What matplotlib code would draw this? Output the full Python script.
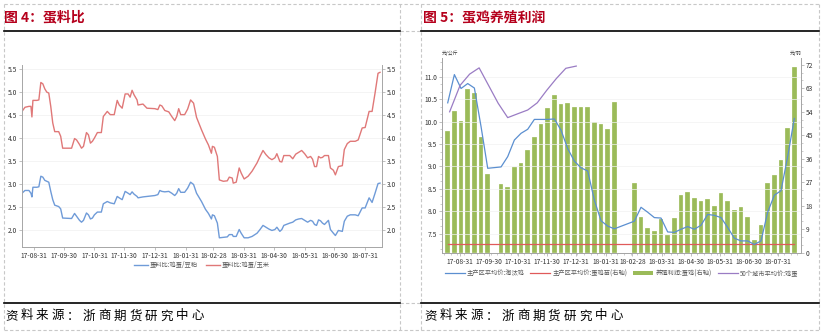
import pandas as pd
import matplotlib
matplotlib.use("Agg")
import matplotlib.pyplot as plt
import matplotlib.dates as mdates
from matplotlib.ticker import MultipleLocator, AutoMinorLocator
from matplotlib.lines import Line2D
from matplotlib.patches import Patch

plt.rcParams['font.family'] = ['Noto Sans CJK SC', 'DejaVu Sans']

# ── DATI: figura 4, 蛋料比 ─────────────────────────────────────────────────
ratio_dates = [
    "2017-08-19", "2017-08-22", "2017-08-26", "2017-08-28", "2017-08-29", "2017-08-30",
    "2017-09-03", "2017-09-05", "2017-09-07", "2017-09-09", "2017-09-11", "2017-09-13",
    "2017-09-15", "2017-09-17", "2017-09-19", "2017-09-21", "2017-09-25", "2017-09-27",
    "2017-09-29", "2017-10-08", "2017-10-11", "2017-10-13", "2017-10-16", "2017-10-18",
    "2017-10-20", "2017-10-23", "2017-10-25", "2017-10-27", "2017-10-29", "2017-10-31",
    "2017-11-03", "2017-11-07", "2017-11-09", "2017-11-13", "2017-11-16", "2017-11-20",
    "2017-11-23", "2017-11-25", "2017-11-28", "2017-12-01", "2017-12-04", "2017-12-06",
    "2017-12-08", "2017-12-10", "2017-12-13", "2017-12-14", "2017-12-19", "2017-12-23",
    "2017-12-31", "2018-01-03", "2018-01-05", "2018-01-07", "2018-01-10", "2018-01-14",
    "2018-01-17", "2018-01-20", "2018-01-22", "2018-01-24", "2018-01-26", "2018-01-30",
    "2018-02-02", "2018-02-05", "2018-02-08", "2018-02-11", "2018-02-16", "2018-02-20",
    "2018-02-23", "2018-02-26", "2018-02-27", "2018-03-01", "2018-03-04", "2018-03-06",
    "2018-03-10", "2018-03-14", "2018-03-16", "2018-03-19", "2018-03-20", "2018-03-23",
    "2018-03-26", "2018-03-28", "2018-03-31", "2018-04-04", "2018-04-08", "2018-04-13",
    "2018-04-16", "2018-04-19", "2018-04-22", "2018-04-25", "2018-04-28", "2018-05-01",
    "2018-05-03", "2018-05-06", "2018-05-08", "2018-05-10", "2018-05-16", "2018-05-19",
    "2018-05-22", "2018-05-25", "2018-05-28", "2018-05-31", "2018-06-03", "2018-06-06",
    "2018-06-08", "2018-06-10", "2018-06-12", "2018-06-14", "2018-06-16", "2018-06-18",
    "2018-06-20", "2018-06-24", "2018-06-26", "2018-06-29", "2018-07-01", "2018-07-04",
    "2018-07-08", "2018-07-10", "2018-07-13", "2018-07-16", "2018-07-21", "2018-07-24",
    "2018-07-28", "2018-07-31", "2018-08-04", "2018-08-07", "2018-08-10", "2018-08-13",
    "2018-08-15",
]
ratio_corn = [
    4.58, 4.67, 4.69, 4.69, 4.46, 4.82, 4.82, 4.83, 5.21, 5.18, 5.07, 5.00,
    4.98, 4.69, 4.33, 4.14, 4.14, 4.04, 3.78, 3.78, 3.99, 3.96, 3.86, 3.78,
    3.82, 4.12, 4.07, 3.89, 3.93, 4.00, 4.12, 4.12, 4.47, 4.58, 4.51, 4.51,
    4.82, 4.72, 4.65, 4.96, 4.96, 4.89, 5.04, 4.94, 4.83, 4.72, 4.74, 4.65,
    4.64, 4.62, 4.72, 4.70, 4.60, 4.57, 4.47, 4.38, 4.47, 4.64, 4.51, 4.51,
    4.63, 4.83, 4.76, 4.45, 4.18, 3.98, 3.85, 3.67, 3.82, 3.80, 3.60, 3.09,
    3.06, 3.07, 3.15, 3.13, 3.02, 3.04, 3.35, 3.24, 3.11, 3.17, 3.28, 3.46,
    3.60, 3.73, 3.64, 3.57, 3.53, 3.57, 3.66, 3.49, 3.48, 3.62, 3.62, 3.55,
    3.65, 3.69, 3.73, 3.66, 3.57, 3.60, 3.54, 3.38, 3.38, 3.60, 3.57, 3.58,
    3.62, 3.62, 3.35, 3.30, 3.20, 3.38, 3.40, 3.75, 3.88, 3.93, 3.93, 3.96,
    4.22, 4.23, 4.58, 4.58, 4.98, 5.41, 5.43,
]
ratio_soymeal = [
    2.80, 2.86, 2.86, 2.80, 2.72, 2.93, 2.93, 2.94, 3.17, 3.15, 3.08, 3.06,
    3.04, 2.84, 2.66, 2.54, 2.51, 2.46, 2.26, 2.25, 2.36, 2.30, 2.21, 2.17,
    2.21, 2.37, 2.33, 2.24, 2.26, 2.33, 2.39, 2.39, 2.57, 2.62, 2.59, 2.57,
    2.73, 2.70, 2.66, 2.84, 2.80, 2.77, 2.83, 2.78, 2.73, 2.70, 2.72, 2.73,
    2.75, 2.77, 2.86, 2.84, 2.83, 2.84, 2.80, 2.75, 2.80, 2.90, 2.82, 2.82,
    2.91, 3.04, 2.99, 2.80, 2.62, 2.45, 2.36, 2.24, 2.33, 2.31, 2.15, 1.83,
    1.84, 1.85, 1.90, 1.90, 1.86, 1.86, 2.01, 1.93, 1.83, 1.83, 1.86, 1.93,
    2.01, 2.10, 2.06, 2.02, 1.99, 2.01, 2.06, 1.97, 2.01, 2.10, 2.15, 2.17,
    2.22, 2.24, 2.25, 2.21, 2.17, 2.21, 2.19, 2.12, 2.10, 2.22, 2.20, 2.15,
    2.12, 2.21, 2.01, 1.93, 1.88, 1.99, 1.97, 2.19, 2.30, 2.33, 2.33, 2.31,
    2.48, 2.48, 2.70, 2.60, 2.80, 3.01, 3.02,
]

# ── DATI: figura 5, 蛋鸡养殖利润 (settimanale, NaN = nessun dato) ───────────
week_start = "2017-08-18"
nan = float("nan")
profit = [
    46.6, 54.3, 50.3, 62.8, 61.0, 44.4, 30.1, nan, 26.2, 25.1, 32.9, 34.5,
    39.3, 44.2, 49.2, 55.4, 60.6, 57.1, 57.3, 56.0, 55.8, 55.8, 49.9, 49.2,
    47.4, 57.7, nan, nan, 26.8, 13.5, 9.4, 8.3, 13.1, 6.9, 13.4, 22.2,
    23.2, 20.9, 20.0, 20.4, 17.9, 22.7, 19.8, 16.2, 17.4, 13.7, 5.0, 10.5,
    26.7, 29.9, 35.5, 47.9, 71.1,
]
cull_hen = [
    10.42, 11.05, 10.74, 10.85, 10.75, 9.89, 8.96, nan, 8.99, 9.22, 9.59, 9.74,
    9.83, 10.05, 10.05, 10.05, 10.06, 9.81, 9.40, 9.12, 8.97, 8.90, 8.25, 7.79,
    7.67, 7.61, nan, nan, 7.78, 8.09, 7.98, 7.86, 7.85, 7.54, 7.53, 7.60,
    7.66, 7.60, 7.69, 7.93, 7.91, 7.86, 7.64, 7.40, 7.34, 7.34, 7.26, 7.34,
    7.98, 8.36, 8.46, 9.22, 10.07,
]
chick_price = [
    3.2, 3.2, 3.2, 3.2, 3.2, 3.2, 3.2, 3.2, 3.2, 3.2, 3.2, 3.2,
    3.2, 3.2, 3.2, 3.2, 3.2, 3.2, 3.2, 3.2, 3.2, 3.2, 3.2, 3.2,
    3.2, 3.2, 3.2, 3.2, 3.2, 3.2, 3.2, 3.2, 3.2, 3.2, 3.2, 3.2,
    3.2, 3.2, 3.2, 3.2, 3.2, 3.2, 3.2, 3.2, 3.2, 3.2, 3.2, 3.2,
    3.2, 3.2, 3.2, 3.2, 3.2,
]
egg_dates = [
    "2017-08-20", "2017-08-31", "2017-09-10", "2017-09-20", "2017-10-10", "2017-10-20",
    "2017-10-31", "2017-11-10", "2017-11-20", "2017-11-30", "2017-12-10", "2017-12-20",
    "2017-12-31",
]
egg_price = [10.22, 10.81, 11.06, 11.20, 10.41, 10.09, 10.18, 10.26, 10.42, 10.70,
             10.96, 11.19, 11.24]

tick_labels = ["17-08-31", "17-09-30", "17-10-31", "17-11-30", "17-12-31", "18-01-31",
               "18-02-28", "18-03-31", "18-04-30", "18-05-31", "18-06-30", "18-07-31"]

# ── STILE ───────────────────────────────────────────────────────────────────
TITLE_RED = "#B5001C"
AX_GRAY = "#A6A6A6"
TXT_GRAY = "#333333"
FS_TICK = 4.8

d_ratio = pd.to_datetime(ratio_dates)
d_week = pd.date_range(week_start, periods=len(profit), freq="7D")
d_egg = pd.to_datetime(egg_dates)
d_ticks = pd.to_datetime(tick_labels, format="%y-%m-%d")

fig = plt.figure(figsize=(8.25, 3.35), dpi=100)
W, H = 825, 335


def px_axes(x0, y0, x1, y1):
    # rettangolo in pixel (origine in alto a sinistra) -> add_axes
    return fig.add_axes([x0 / W, 1 - y1 / H, (x1 - x0) / W, (y1 - y0) / H])


def style_axes(a):
    for s in ["left", "right", "bottom"]:
        a.spines[s].set_color(AX_GRAY)
        a.spines[s].set_linewidth(0.7)
    a.spines["top"].set_visible(False)
    a.tick_params(axis="both", labelsize=FS_TICK, colors=AX_GRAY, labelcolor=TXT_GRAY,
                  length=2, width=0.5, pad=1.5)


# ── cornice / titoli ─────────────────────────────────────────────────────────
deco = fig.add_axes([0, 0, 1, 1], zorder=-5)
deco.set_xlim(0, W)
deco.set_ylim(H, 0)
deco.axis("off")
dash = dict(color="#C8C8C8", lw=0.8, ls=(0, (3, 2)))
deco.plot([3.5, 819], [3.5, 3.5], **dash)
deco.plot([3.5, 819], [330, 330], **dash)
for xv in [3.5, 400, 421, 819]:
    deco.plot([xv, xv], [3.5, 330], **dash)
for yv in [30.5, 303]:
    deco.plot([400, 421], [yv, yv], **dash)
    deco.plot([3.5, 400], [yv, yv], color="black", lw=1.2)
    deco.plot([421, 819], [yv, yv], color="black", lw=1.2)

deco.text(4, 17, "图 4：蛋料比", color=TITLE_RED, fontsize=10, fontweight="bold",
          va="center", ha="left")
deco.text(423, 17, "图 5：蛋鸡养殖利润", color=TITLE_RED, fontsize=10, fontweight="bold",
          va="center", ha="left")
for x0 in [5, 424]:
    for i, ch in enumerate("资料来源：浙商期货研究中心"):
        deco.text(x0 + i * 15.5, 316, ch, fontsize=9.0, color="black",
                  va="center", ha="left")

# ── grafico sinistro ────────────────────────────────────────────────────────
ax1 = px_axes(22, 65, 382, 247)
style_axes(ax1)
ax1.plot(d_ratio, ratio_soymeal, color="#6F9BD8", lw=1.0, label="蛋料比:鸡蛋/豆粕")
ax1.plot(d_ratio, ratio_corn, color="#E07878", lw=1.0, label="蛋料比:鸡蛋/玉米")
ax1.set_ylim(1.63, 5.59)
ax1.set_xlim(pd.Timestamp("2017-08-19"), pd.Timestamp("2018-08-17"))
ax1.yaxis.set_major_locator(MultipleLocator(0.5))
ax1.yaxis.set_major_formatter(plt.FormatStrFormatter("%.1f"))
ax1.yaxis.set_ticks_position("both")
ax1.tick_params(axis="y", labelright=True)
ax1.set_xticks(d_ticks)
ax1.set_xticklabels(tick_labels)
ax1.grid(axis="y", color="#F0F0F0", lw=0.5)
ax1.set_axisbelow(True)
ax1.legend(loc="center", bbox_to_anchor=(0.5, -0.1), ncol=2, frameon=False,
           fontsize=4.5, handlelength=2.2, columnspacing=1.2, handletextpad=0.4,
           labelcolor="#595959")

# ── grafico destro ──────────────────────────────────────────────────────────
ax2 = px_axes(442, 58, 801, 252.7)
ax2b = ax2.twinx()
style_axes(ax2)
style_axes(ax2b)
ax2.set_zorder(ax2b.get_zorder() + 1)
ax2.patch.set_visible(False)

ax2b.bar(d_week, profit, width=5.0, color="#9BBB59", edgecolor="#FFFFFF",
         linewidth=0.2, zorder=2)
ax2b.plot(d_week, chick_price, color="#E05A5A", lw=0.9, zorder=3)
ax2b.set_ylim(0, 74.6)
ax2b.yaxis.set_major_locator(MultipleLocator(9))
ax2b.yaxis.set_minor_locator(AutoMinorLocator(3))
ax2b.tick_params(axis="y", which="minor", length=1.2, width=0.4, colors=AX_GRAY)

ok = [v == v for v in cull_hen]
ax2.plot(d_week[ok], [v for v, k in zip(cull_hen, ok) if k], color="#5B8FD0", lw=0.9)
ax2.plot(d_egg, egg_price, color="#9A7CC4", lw=0.9)
ax2.set_ylim(7.077, 11.42)
ax2.yaxis.set_major_locator(MultipleLocator(0.5))
ax2.yaxis.set_minor_locator(AutoMinorLocator(3))
ax2.yaxis.set_major_formatter(plt.FormatStrFormatter("%.1f"))
ax2.tick_params(axis="y", which="minor", length=1.2, width=0.4, colors=AX_GRAY)
ax2.set_xlim(pd.Timestamp("2017-08-12"), pd.Timestamp("2018-08-24"))
ax2.set_xticks(d_ticks)
ax2.set_xticklabels(tick_labels)
ax2.xaxis.set_minor_locator(mdates.WeekdayLocator(byweekday=mdates.MO))
ax2.tick_params(axis="x", which="minor", length=1.2, width=0.4, colors=AX_GRAY)
ax2.grid(axis="y", color="#F2F2F2", lw=0.5)

ax2.text(0.0, 1.01, "元/公斤", transform=ax2.transAxes, fontsize=3.5, color=TXT_GRAY,
         ha="left", va="bottom")
ax2.text(1.0, 1.01, "元/羽", transform=ax2.transAxes, fontsize=3.5, color=TXT_GRAY,
         ha="right", va="bottom")

handles = [
    Line2D([], [], color="#5B8FD0", lw=0.9),
    Line2D([], [], color="#E05A5A", lw=0.9),
    Patch(facecolor="#9BBB59"),
    Line2D([], [], color="#9A7CC4", lw=0.9),
]
labels = ["主产区平均价:淘汰鸡", "主产区平均价:蛋鸡苗(右轴)", "养殖利润:蛋鸡(右轴)",
          "50个城市平均价:鸡蛋"]
ax2.legend(handles, labels, loc="lower left", bbox_to_anchor=(0, -0.14, 1, 0.07),
           mode="expand", ncol=4, frameon=False, fontsize=4.5, handlelength=3.2,
           handletextpad=0.4, labelcolor="#595959", borderaxespad=0)

fig.savefig("out.png", dpi=100)
